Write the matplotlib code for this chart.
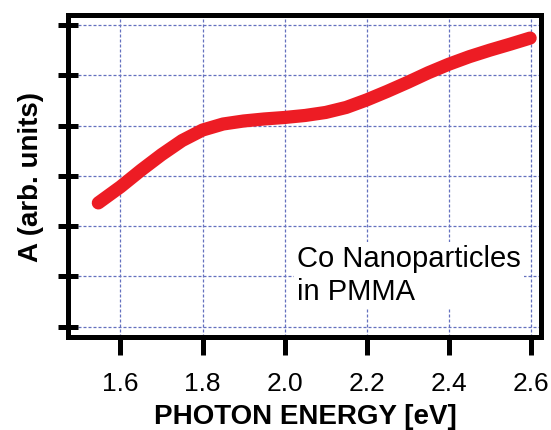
import matplotlib
matplotlib.use("Agg")
import matplotlib.pyplot as plt

# Data (y in arbitrary units, grid step = 1)
energy = [1.546, 1.60, 1.65, 1.70, 1.75, 1.80, 1.85, 1.90, 1.95, 2.00,
          2.05, 2.10, 2.15, 2.20, 2.25, 2.30, 2.35, 2.40, 2.45, 2.50,
          2.55, 2.598]
absorb = [2.46, 2.78, 3.11, 3.42, 3.70, 3.91, 4.03, 4.09, 4.13, 4.16,
          4.20, 4.26, 4.36, 4.51, 4.68, 4.86, 5.05, 5.22, 5.37, 5.50,
          5.62, 5.74]
xticks = [1.6, 1.8, 2.0, 2.2, 2.4, 2.6]
xtick_labels = ["1.6", "1.8", "2.0", "2.2", "2.4", "2.6"]
yticks = [0, 1, 2, 3, 4, 5, 6]
xlabel = "PHOTON ENERGY [eV]"
ylabel = "A (arb. units)"
note = "Co Nanoparticles\nin PMMA"

plt.rcParams['font.family'] = ['Liberation Sans', 'DejaVu Sans']

fig = plt.figure(figsize=(5.51, 4.30), dpi=100)
ax = fig.add_axes([0.1243, 0.2174, 0.8584, 0.7477])

ax.plot(energy, absorb, color='#ED1C24', lw=9.5, solid_capstyle='round',
        solid_joinstyle='round', zorder=3)

ax.set_xlim(1.4733, 2.6256)
ax.set_ylim(-0.199, 6.199)
ax.set_xticks(xticks)
ax.set_xticklabels(xtick_labels)
ax.set_yticks(yticks)

ax.grid(True, color='#6470bf', lw=0.9, linestyle=(0, (2.4, 1.6)), zorder=0)

for side in ['left', 'right', 'top', 'bottom']:
    ax.spines[side].set_linewidth(3.6)
    ax.spines[side].set_color('black')

ax.tick_params(axis='x', direction='out', length=13.3, width=3.6,
               pad=12.2, labelsize=19, bottom=True, top=False)
ax.tick_params(axis='y', direction='inout', length=15, width=3.6,
               left=True, right=False, labelleft=False)

ax.set_xlabel(xlabel, fontsize=20, fontweight='bold')
ax.xaxis.set_label_coords(0.5, -0.21)
ax.set_ylabel(ylabel, fontsize=20, fontweight='bold')
ax.yaxis.set_label_coords(-0.0518, 0.495)

ax.text(0.483, 0.19, note, transform=ax.transAxes, fontsize=21,
        ha='left', va='center', linespacing=1.25, zorder=4,
        bbox=dict(facecolor='white', edgecolor='none', pad=2))

fig.savefig("out.png", dpi=100)
